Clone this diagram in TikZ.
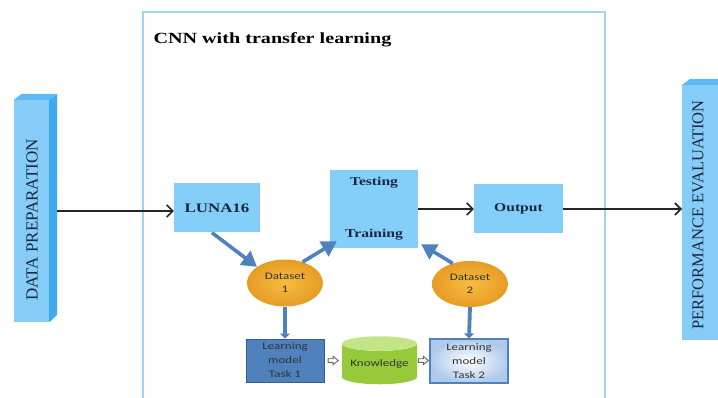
\documentclass[tikz,border=0pt]{standalone}
\usepackage{fontspec}
\setmainfont{Liberation Serif}
\newfontfamily\wideserif[FakeStretch=1.3]{Liberation Serif}
\newfontfamily\widesans[FakeStretch=1.3]{Carlito}
\usetikzlibrary{arrows.meta,shapes.geometric,calc}

\definecolor{boxblue}{RGB}{132,206,250}
\definecolor{barfront}{RGB}{134,204,249}
\definecolor{bartop}{RGB}{92,185,245}
\definecolor{barside}{RGB}{62,170,240}
\definecolor{framecol}{RGB}{160,212,240}
\definecolor{steel}{RGB}{79,129,189}
\definecolor{steeldark}{RGB}{56,93,138}
\definecolor{orangein}{RGB}{249,188,64}
\definecolor{orangeout}{RGB}{230,156,36}
\definecolor{limegreen}{RGB}{150,202,58}
\definecolor{limetop}{RGB}{196,228,136}
\definecolor{inkblue}{RGB}{25,40,60}
\definecolor{palesteel}{RGB}{176,202,236}

\tikzset{
  bluebox/.style={rectangle, fill=boxblue, draw=none, inner sep=0pt},
  serlabel/.style={font=\wideserif\bfseries\fontsize{12}{14}\selectfont, text=inkblue},
  barface/.style={rectangle, fill=barfront, draw=none, inner sep=0pt},
  bartext/.style={rotate=90, text=inkblue},
  dataset/.style={ellipse, minimum width=76pt, minimum height=47pt, inner sep=0pt,
    shading=radial, inner color=orangein, outer color=orangeout,
    font=\widesans\fontsize{10}{13}\selectfont, align=center, text=black!80},
  taskbox/.style={rectangle, minimum width=78pt, minimum height=43pt, inner sep=0pt,
    font=\widesans\fontsize{10}{14}\selectfont, align=center, text=black!80},
  flowarrow/.style={draw=black!85, line width=2pt,
    -{Straight Barb[length=6pt,width=12pt,line width=1.6pt]}},
  bigblue/.style={draw=steel, line width=3.6pt, -{Triangle[length=15pt,width=17pt]}},
  smallblue/.style={draw=steel, line width=3.8pt, -{Triangle[length=5pt,width=10pt]}},
  hollowshape/.style={draw=black!60, fill=white, line width=0.9pt, line join=miter}
}

\begin{document}
\begin{tikzpicture}[x=1pt,y=-1pt]
\useasboundingbox (0,0) rectangle (718,398);

% outer frame of the CNN block
\draw[framecol, line width=1.2pt] (143,405) -- (143,12) -- (605,12) -- (605,405);
\node[anchor=west, font=\wideserif\bfseries\fontsize{15.5}{17}\selectfont] (title) at (150,40) {CNN with transfer learning};

% left 3D bar
\node[barface, minimum width=35pt, minimum height=222pt] (prep) at (31.5,211) {};
\fill[bartop] (prep.north west) -- ++(8,-6) -- ++(35,0) -- (prep.north east) -- cycle;
\fill[barside] (prep.north east) -- ++(8,-6) -- ++(0,221) -- (prep.south east) -- cycle;
\node[bartext, font=\fontsize{17}{19}\selectfont] (preptext) at (32,220) {DATA PREPARATION};

% right 3D bar
\node[barface, minimum width=40pt, minimum height=255pt, anchor=north west] (perf) at (682,85) {};
\fill[bartop] (perf.north west) -- ++(8,-6) -- ++(40,0) -- (perf.north east) -- cycle;
\node[bartext, font=\fontsize{16.5}{19}\selectfont] (perftext) at (698,215) {PERFORMANCE EVALUATION};

% main boxes
\node[bluebox, serlabel, font=\wideserif\bfseries\fontsize{13}{15}\selectfont, minimum width=86pt, minimum height=49pt] (luna) at (217,208) {LUNA16};
\node[bluebox, serlabel, minimum width=88pt, minimum height=78pt, align=center] (tt) at (374,209) {Testing\\[38pt]Training};
\node[bluebox, serlabel, minimum width=89pt, minimum height=49pt] (out) at (518.5,209) {Output};

% datasets
\node[dataset] (ds1) at (285,283) {Dataset\\1};
\node[dataset, minimum height=46pt] (ds2) at (470,284) {Dataset\\2};

% learning models and knowledge store
\node[taskbox, fill=steel, draw=steeldark, line width=0.8pt] (t1) at (285,360.5) {Learning\\model\\Task 1};
\node[cylinder, shape border rotate=90, aspect=0.25, minimum width=75pt, minimum height=48pt,
  cylinder uses custom fill, cylinder body fill=limegreen, cylinder end fill=limetop,
  draw=none, inner sep=0pt, font=\widesans\fontsize{10}{13}\selectfont, text=black!80] (know) at (379.5,364) {Knowledge};
\node[taskbox, minimum height=44pt, shading=radial, inner color=white, outer color=palesteel,
  draw=steel, line width=1.2pt] (t2) at (469,361) {Learning\\model\\Task 2};

% black flow arrows
\draw[flowarrow] ([xshift=8pt]prep.east) -- (prep.east -| luna.west);
\draw[flowarrow] (tt.east) -- (tt.east -| out.west);
\draw[flowarrow] (out.east) -- (out.east -| perf.west);

% blue arrows
\draw[bigblue] ([xshift=-5pt]luna.south) -- (ds1.150);
\draw[bigblue] (ds1.50) -- ($(tt.south west)+(7,-7)$);
\draw[bigblue] (ds2.130) -- ($(tt.south east)+(3,-4)$);
\draw[smallblue] (ds1.south) -- (t1.north);
\draw[smallblue] (ds2.south) -- (t2.north);

% transfer of knowledge: hollow block arrows midway between the boxes
\path (t1.east) -- (t1.east -| know.west) coordinate[pos=0.5] (m1);
\path (t1.east -| know.east) -- (t1.east -| t2.west) coordinate[pos=0.5] (m2);
\foreach \m in {m1,m2}
  \draw[hollowshape] ($(\m)+(-5,-1.8)$) -- ++(5,0) -- ++(0,-2.4) -- ++(5,4.2)
    -- ++(-5,4.2) -- ++(0,-2.4) -- ++(-5,0) -- cycle;
\end{tikzpicture}
\end{document}
